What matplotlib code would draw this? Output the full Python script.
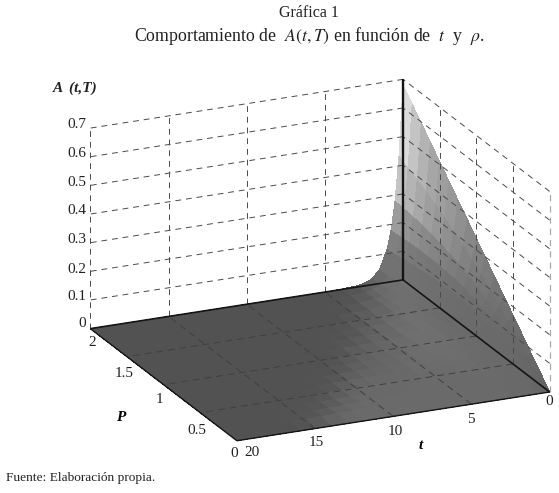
import numpy as np
import matplotlib
matplotlib.use("Agg")
import matplotlib.pyplot as plt

plt.rcParams['font.family'] = ['Liberation Serif', 'DejaVu Serif']
plt.rcParams['mathtext.fontset'] = 'stix'

t_values = [0, .25, .5, .75, 1, 1.5, 2, 2.5, 3, 4, 5, 6, 7, 8, 9, 10, 11, 12, 13, 14, 15, 16, 18, 20]
p_values = [0, .125, .25, .375, .5, .625, .75, .875, 1, 1.125, 1.25, 1.375, 1.5, 1.625, 1.75, 1.875, 2]


def full(row, rest):
    return row + [rest] * (len(t_values) - len(row))


a_rows = [
    full([], 0),
    [.043,.041,.040,.039,.038,.036,.034,.032,.031,.027,.025,.022,.020,.018,.016,.014,.013,.011,.010,.009,.008,.007,.006,.005],
    [.085,.080,.076,.072,.068,.061,.055,.049,.044,.035,.028,.023,.018,.015,.012,.009,.008,.006,.005,.004,.003,.003,.002,.001],
    full([.128,.117,.108,.100,.092,.078,.066,.056,.048,.034,.025,.018,.013,.009,.007,.005,.003,.002,.002,.001,.001,.001], 0),
    full([.170,.153,.137,.122,.110,.088,.071,.057,.046,.030,.019,.012,.008,.005,.003,.002,.001,.001], 0),
    full([.213,.185,.162,.141,.123,.094,.071,.054,.041,.024,.014,.008,.005,.003,.002,.001,.001], 0),
    full([.255,.216,.184,.156,.132,.095,.069,.049,.036,.018,.010,.005,.003,.001,.001], 0),
    full([.298,.246,.203,.167,.138,.094,.064,.044,.030,.014,.006,.003,.001,.001], 0),
    full([.340,.272,.219,.176,.142,.092,.059,.038,.025,.010,.004,.002,.001], 0),
    full([.383,.299,.234,.183,.143,.087,.053,.033,.020,.007,.003,.001], 0),
    full([.425,.323,.246,.187,.142,.082,.048,.028,.016,.005,.002,.001], 0),
    full([.468,.346,.257,.190,.141,.077,.042,.023,.013,.004,.001], 0),
    full([.510,.367,.264,.190,.137,.071,.037,.019,.010,.003,.001], 0),
    full([.553,.387,.272,.190,.134,.066,.032,.016,.008,.002], 0),
    full([.595,.406,.277,.189,.129,.060,.028,.013,.006,.001], 0),
    full([.638,.423,.281,.186,.123,.054,.024,.010,.005,.001], 0),
    full([.680,.440,.284,.183,.118,.049,.020,.009,.004,.001], 0),
]

g_rows = [
    full([100,100,100,102,104,105,105,105,106,106,106,106,106,106,106,106,106,106,105,100,88], 82),
    full([102,101,101,103,104,105,105,105,106,106,106,106,106,106,106,106,106,105,100,90,84], 82),
    full([105,104,103,104,105,105,106,106,106,106,106,106,106,106,105,105,105,100,90,84], 82),
    full([108,106,105,105,105,105,106,106,107,107,106,106,106,105,105,105,102,92,84], 82),
    full([112,110,108,106,106,106,106,107,108,108,107,106,105,105,104,102,94,84], 82),
    full([116,113,110,108,107,106,106,108,109,109,108,106,104,103,102,95,85], 82),
    full([122,118,114,110,108,106,106,108,110,110,108,105,102,100,96,86], 82),
    full([128,124,118,112,109,106,106,109,111,110,107,103,100,97,88], 82),
    full([134,130,122,114,110,106,106,110,112,110,106,101,98,92,83], 82),
    full([142,138,128,118,111,107,107,111,113,108,103,98,92,84], 82),
    full([150,146,134,120,112,108,108,112,113,106,100,94,85], 82),
    full([155,155,140,122,113,109,109,112,110,103,97,88,82], 82),
    full([160,162,146,124,114,110,110,112,107,99,92,83], 82),
    full([170,172,152,126,115,111,111,110,104,95,85], 82),
    full([185,188,160,130,116,112,110,106,100,88], 82),
    full([205,205,168,135,118,110,106,100,92,83], 82),
    full([240,225,180,140,120,108,100,92,86], 82),
]

p_ticks = [0, .5, 1, 1.5, 2]
p_labels = ['0', '0.5', '1', '1.5', '2']
t_ticks = [0, 5, 10, 15, 20]
t_labels = ['0', '5', '10', '15', '20']
a_ticks = [0, .1, .2, .3, .4, .5, .6, .7]
a_labels = ['0', '0.1', '0.2', '0.3', '0.4', '0.5', '0.6', '0.7']

T, P = np.meshgrid(t_values, p_values)
A = np.array(a_rows)
G = np.array(g_rows, float)
face = (G[:-1, :-1] + G[1:, :-1] + G[:-1, 1:] + G[1:, 1:]) / 4 / 255
colors = np.dstack([face, face, face, np.ones_like(face)])

W, H = 559, 493
fig = plt.figure(figsize=(W/100, H/100), dpi=100, facecolor='white')
L = 523
ax = fig.add_axes([51.4/W, (H-528.6)/H, L/W, L/H], projection='3d', proj_type='ortho')
ax.computed_zorder = False
ax.patch.set_alpha(0)
ax.view_init(elev=20.2, azim=155.7, roll=0)
ax.set_box_aspect((355, 342, 213), zoom=1)
ax.set_xlim(0, 2, view_margin=0)
ax.set_ylim(0, 20, view_margin=0)
ax.set_zlim(0, .7, view_margin=0)

ax.plot_surface(P, T, A, facecolors=colors, rstride=1, cstride=1, shade=False,
                linewidth=0, antialiased=False, zorder=1)

wall = dict(color='#4a4a4a', lw=0.7, dashes=(6, 5), zorder=2)
floor = dict(color='#404040', lw=0.7, dashes=(7, 5), zorder=2)
for z in a_ticks[1:]:
    ax.plot([2, 2], [0, 20], [z, z], **wall)
    ax.plot([0, 2], [0, 0], [z, z], **wall)
for t in t_ticks[1:]:
    ax.plot([2, 2], [t, t], [0, .7], **wall)
for p in p_ticks[1:-1]:
    ax.plot([p, p], [0, 0], [0, .7], **wall)
ax.plot([0, 0], [0, 0], [0, .7], color='#aaaaaa', lw=0.9, dashes=(5, 4), zorder=2)
for t in t_ticks[1:-1]:
    ax.plot([0, 2], [t, t], [0, 0], **floor)
for p in p_ticks[1:-1]:
    ax.plot([p, p], [0, 20], [0, 0], **floor)

edge = dict(color='#151515', zorder=3, solid_capstyle='butt')
ax.plot([2, 2], [0, 20], [0, 0], lw=1.2, **edge)
ax.plot([0, 2], [0, 0], [0, 0], lw=1.2, **edge)
ax.plot([0, 0], [0, 20], [0, 0], lw=1.0, **edge)
ax.plot([0, 2], [20, 20], [0, 0], lw=1.0, **edge)
ax.plot([2, 2], [0, 0], [0, .7], lw=1.7, **edge)

ax.grid(False)
for axis in (ax.xaxis, ax.yaxis, ax.zaxis):
    axis.set_pane_color((1, 1, 1, 0))
    axis.pane.set_edgecolor('none')
    axis.line.set_color('none')
    axis._axinfo['tick']['inward_factor'] = 0
    axis._axinfo['tick']['outward_factor'] = 0

ax.set_xticks(p_ticks, p_labels, fontsize=11, color='#222222')
ax.set_yticks(t_ticks, t_labels, fontsize=11, color='#222222')
ax.set_zticks(a_ticks, a_labels, fontsize=11, color='#222222')
ax.zaxis.set_ticks_position('upper')
ax.tick_params(axis='x', pad=-7)
ax.tick_params(axis='y', pad=-5)
ax.tick_params(axis='z', pad=0)
ax.get_yticklabels()[-1].set_ha('left')

UNIT = 0.185 / L


def shift_text(text, dx, dy):
    """Fine placement of a 3D axis text, in pixels (right, down)."""
    place = text.set_position
    text.set_position = lambda xy, place=place, dx=dx, dy=dy: place(
        (xy[0] + dx * UNIT, xy[1] - dy * UNIT))


def nudge(axis, shifts):
    for tick, (dx, dy) in zip(axis.get_major_ticks(), shifts):
        shift_text(tick.label1, dx, dy)


nudge(ax.xaxis, [(-1, 5), (-2, 10), (-3, 7), (-1, 9), (3, 6)])
nudge(ax.yaxis, [(-3, -2), (-3, 4), (0, 4), (-1, 3), (5, 0)])
nudge(ax.zaxis, [(11, -9), (5, -7), (5, -6), (5, -7), (5, -7), (5, -7), (5, -7), (5, -8)])

ax.set_xlabel('P', fontsize=11, fontweight='bold', fontstyle='italic', labelpad=3)
ax.set_ylabel('t', fontsize=11, fontweight='bold', fontstyle='italic', labelpad=3)
shift_text(ax.xaxis.label, -5, 2)
shift_text(ax.yaxis.label, 9, -9)

fig.text(75/W, 1-88/H, 'A  (t,T)', fontsize=11, fontweight='bold', fontstyle='italic',
         ha='center', va='center', color='#222222')
fig.text(309/W, 1-13/H, 'Gráfica 1', fontsize=11.5, ha='center', va='center', color='#222222')
fig.text(309/W, 1-36/H, r'Comportamiento de  $A(t,T)$ en función de  $t$  y  $\rho$.',
         fontsize=12.8, ha='center', va='center', color='#222222')
fig.text(6/W, 1-478/H, 'Fuente: Elaboración propia.', fontsize=9.6, ha='left', va='center', color='#222222')

fig.savefig('out.png', dpi=100)
